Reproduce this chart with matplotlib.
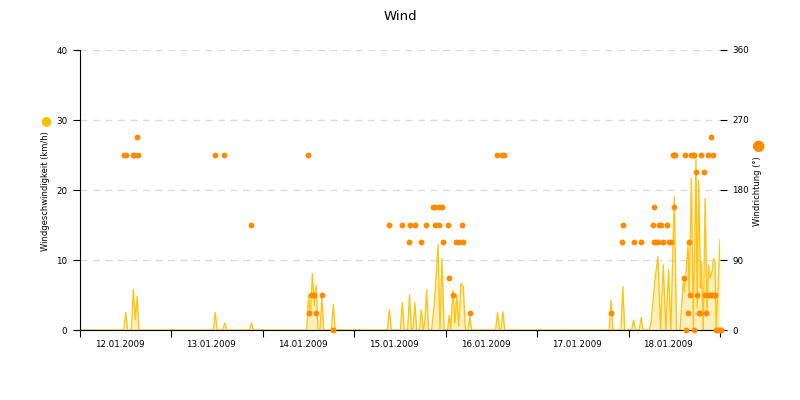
import datetime as dt
import matplotlib
matplotlib.use("Agg")
import matplotlib.pyplot as plt
import matplotlib.dates as mdates
import matplotlib.transforms as mtransforms

START = dt.datetime(2009, 1, 12)
END = dt.datetime(2009, 1, 19)

# wind speed (km/h), hours after 12.01.2009 00:00
speed_hours = [0, 11.5, 12.0, 12.5, 13.5, 14.0, 14.5, 15.0, 15.5,
               35.0, 35.5, 36.0, 37.5, 38.0, 38.5, 44.5, 45.0, 45.5,
               59.5, 60.0, 60.5, 61.0, 61.5, 62.0, 62.5, 63.0, 63.5, 64.0, 66.0, 66.5, 67.0,
               80.7, 81.2, 81.7, 84.1, 84.6, 85.1, 86.0, 86.5, 87.0, 87.4, 87.9, 88.4,
               89.1, 89.6, 90.1, 90.5, 91.0, 91.5, 92.3, 93.1, 94.0, 94.5, 95.0, 95.6,
               96.5, 96.9, 97.3, 97.9, 98.4, 98.9, 99.4, 100.0, 100.6, 101.2, 101.8, 102.3, 102.8,
               109.1, 109.6, 110.1, 110.5, 111.0, 111.5,
               138.9, 139.4, 139.9, 142.0, 142.5, 143.0, 144.8, 145.3, 145.8, 146.8, 147.3, 147.8,
               149.4, 149.9, 150.9, 151.7, 152.4, 153.1, 153.8, 154.5, 155.1, 156.0, 156.6, 157.5,
               158.4, 158.7, 159.1, 159.6, 159.9, 160.5, 161.0, 161.7, 162.0, 162.4, 162.9, 163.1,
               163.6, 164.1, 164.6, 165.0, 165.4, 165.9, 166.3, 166.7, 167.0, 167.5, 168.0]
speed_kmh = [0, 0, 2.5, 0, 0, 5.8, 1.5, 4.8, 0,
             0, 2.5, 0, 0, 1.0, 0, 0, 1.0, 0,
             0, 4.9, 2.0, 8.1, 3.5, 6.4, 0, 0, 4.6, 0, 0, 3.6, 0,
             0, 2.9, 0, 0, 3.9, 0, 0, 5.0, 0, 0, 3.9, 0,
             0, 2.9, 0, 1.0, 5.7, 0, 0, 4.3, 12.2, 0, 10.2, 0,
             0, 2.1, 0, 5.7, 1.0, 5.0, 0.5, 6.7, 6.2, 0, 0, 1.9, 0,
             0, 2.5, 0, 0, 2.6, 0,
             0, 4.3, 0, 0, 6.2, 0, 0, 1.4, 0, 0, 1.8, 0,
             0, 1.0, 7.0, 10.5, 0, 9.3, 0, 8.6, 0, 19.0, 0, 0,
             7.1, 5.5, 8.3, 12.1, 5.0, 21.7, 0, 24.5, 3.1, 21.4, 6.0, 9.8,
             0, 18.8, 2.6, 9.3, 7.4, 8.3, 10.2, 9.8, 0, 6.4, 12.9]

# wind direction (degrees)
dir_hours = [11.6, 12.1, 13.8, 14.2, 14.9, 15.1,
             35.4, 37.8, 44.8,
             59.9, 60.2, 60.6, 61.1, 61.5, 61.9, 63.6, 66.5,
             81.2, 84.6, 86.3, 86.6, 87.9, 89.6, 90.9, 92.6, 93.3, 93.3, 94.2,
             94.2, 95.0, 95.3, 96.6, 96.9, 97.9, 98.8, 99.6, 100.4, 100.5, 102.3,
             109.5, 110.8, 111.3,
             139.4, 142.3, 142.6, 145.3, 147.3, 150.3, 150.7, 150.7, 151.1, 151.8,
             152.1, 152.5, 153.0, 154.1, 154.5, 155.1, 155.6, 155.8, 156.0, 156.3,
             158.5, 158.8, 159.1, 159.5, 159.8, 160.1, 160.5, 160.9, 161.1, 161.3,
             161.7, 162.0, 162.4, 162.8, 163.1, 163.8, 164.0, 164.4, 164.8, 165.0,
             165.6, 165.7, 165.9, 166.1, 166.4, 166.7, 167.0, 167.5, 167.9, 168.2]
dir_deg = [225, 225, 225, 225, 247.5, 225,
           225, 225, 135,
           225, 22.5, 45, 45, 45, 22.5, 45, 0,
           135, 135, 112.5, 135, 135, 112.5, 135, 157.5, 157.5, 135, 157.5,
           135, 157.5, 112.5, 135, 67.5, 45, 112.5, 112.5, 135, 112.5, 22.5,
           225, 225, 225,
           22.5, 112.5, 135, 112.5, 112.5, 135, 112.5, 157.5, 112.5, 112.5,
           135, 135, 112.5, 135, 112.5, 112.5, 225, 225, 157.5, 225,
           67.5, 225, 0, 22.5, 112.5, 45, 225, 225, 0, 225,
           202.5, 45, 22.5, 22.5, 225, 202.5, 45, 22.5, 225, 45,
           45, 247.5, 45, 225, 45, 45, 0, 0, 0, 0]

speed_ticks = [0, 10, 20, 30, 40]
dir_ticks = [0, 90, 180, 270, 360]

SPEED_COLOR = "#FFC000"
DIR_COLOR = "#FF8C00"


def to_times(hours):
    return [START + dt.timedelta(hours=h) for h in hours]


fig = plt.figure(figsize=(8, 4), dpi=100)
ax = fig.add_axes([0.1, 0.175, 0.8, 0.7])
ax2 = ax.twinx()

t_speed = to_times(speed_hours)
ax.fill_between(t_speed, speed_kmh, 0, color=SPEED_COLOR, alpha=0.25, linewidth=0)
ax.plot(t_speed, speed_kmh, color=SPEED_COLOR, linewidth=1.0, alpha=0.9)

ax2.scatter(to_times(dir_hours), dir_deg, s=18, color=DIR_COLOR, linewidths=0,
            clip_on=False, zorder=3)

ax.set_xlim(START, END)
ax.set_ylim(0, 40)
ax2.set_ylim(0, 360)
ax.set_yticks(speed_ticks)
ax2.set_yticks(dir_ticks)

ax.yaxis.grid(True, color="#DDDDDD", linestyle=(0, (5, 4)), linewidth=1)
ax.set_axisbelow(True)

for a in (ax, ax2):
    a.spines["top"].set_visible(False)
    a.spines["right"].set_visible(False)
ax2.spines["left"].set_visible(False)
ax2.spines["bottom"].set_visible(False)

ax.xaxis.set_major_locator(mdates.DayLocator())
ax.xaxis.set_major_formatter(plt.NullFormatter())
ax.xaxis.set_minor_locator(mdates.HourLocator(byhour=12))
ax.xaxis.set_minor_formatter(mdates.DateFormatter("%d.%m.%Y"))
ax.tick_params(axis="x", which="major", length=5, color="black")
ax.tick_params(axis="x", which="minor", length=0, labelsize=6.3, pad=7)
ax.tick_params(axis="y", length=5, labelsize=6.3, pad=4)
ax2.tick_params(axis="y", length=5, labelsize=6.3, pad=4)

# date labels sit slightly left of noon in the original
shift = mtransforms.ScaledTranslation(-0.06, 0, fig.dpi_scale_trans)
for lbl in ax.xaxis.get_minorticklabels():
    lbl.set_transform(lbl.get_transform() + shift)

fig.text(0.5, 0.96, "Wind", ha="center", va="center", fontsize=9.5)
fig.text(0.057, 0.522, "Windgeschwindigkeit (km/h)", rotation=90,
         ha="center", va="center", fontsize=6)
fig.text(0.057, 0.698, "\u25cf", color=SPEED_COLOR, ha="center", va="center", fontsize=9)
fig.text(0.947, 0.522, "Windrichtung (\u00b0)", rotation=90,
         ha="center", va="center", fontsize=6)
fig.text(0.947, 0.635, "\u25cf", color=DIR_COLOR, ha="center", va="center", fontsize=11)

fig.savefig("out.png", dpi=100)
